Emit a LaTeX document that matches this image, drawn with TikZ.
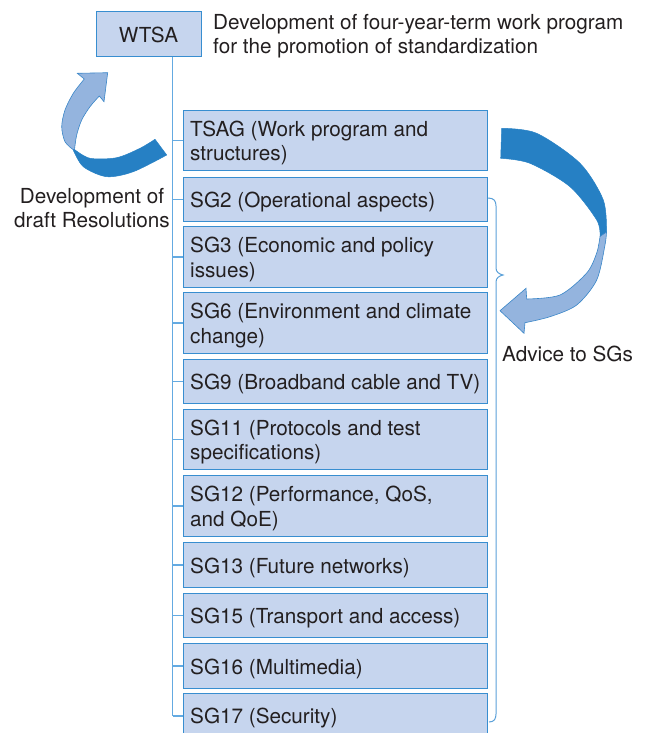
\documentclass[tikz,border=0pt]{standalone}
\usepackage{fontspec}
\setmainfont{TeX Gyre Heros}
\definecolor{boxfill}{HTML}{C6D5EE}
\definecolor{boxline}{HTML}{388ED0}
\definecolor{trunkline}{HTML}{64AAE1}
\definecolor{arrowdark}{HTML}{2680C4}
\definecolor{arrowlight}{HTML}{94B4DE}
\definecolor{arrowedge}{HTML}{3A86C8}
\definecolor{ink}{HTML}{231F20}
\definecolor{bracecol}{HTML}{5AA0D8}
\begin{document}
\begin{tikzpicture}[x=1pt,y=-1pt,
  every node/.style={text=ink, font=\fontsize{20.7}{24.5}\selectfont},
  sgbox/.style={draw=boxline, fill=boxfill, line width=1pt, anchor=north west,
    minimum width=304pt, inner sep=0pt},
  sgtext/.style={anchor=west, inner sep=0pt, align=left, xshift=7pt, yshift=-2.5pt},
  topbox/.style={draw=boxline, fill=boxfill, line width=1pt,
    minimum width=105pt, minimum height=45pt, inner sep=0pt},
  trunk/.style={draw=trunkline, line width=1.2pt},
  darkarrow/.style={fill=arrowdark, draw=arrowdark, line width=0.5pt, line join=round},
  lightarrow/.style={fill=arrowlight, draw=arrowedge, line width=0.6pt, line join=miter},
  plain/.style={inner sep=0pt}]
\useasboundingbox (0,0) rectangle (646,733);
\clip (0,0) rectangle (646,733);

% assembly at the top and its task
\node[topbox] (wtsa) at (148.5,34.5) {WTSA};
\node[plain, anchor=west, align=left] (mission) at (213,36.1)
  {Development of four-year-term work program\\for the promotion of standardization};

% advisory group and study groups: frames
\node[sgbox, minimum height=60pt] (tsag) at (183,110) {};
\node[sgbox, minimum height=44pt] (sg2)  at (183,177) {};
\node[sgbox, minimum height=61pt] (sg3)  at (183,226) {};
\node[sgbox, minimum height=61pt] (sg6)  at (183,292) {};
\node[sgbox, minimum height=44pt] (sg9)  at (183,359) {};
\node[sgbox, minimum height=60pt] (sg11) at (183,409) {};
\node[sgbox, minimum height=61pt] (sg12) at (183,475) {};
\node[sgbox, minimum height=45pt] (sg13) at (183,542) {};
\node[sgbox, minimum height=44pt] (sg15) at (183,593) {};
\node[sgbox, minimum height=45pt] (sg16) at (183,643) {};
\node[sgbox, minimum height=45pt] (sg17) at (183,693) {};

% advisory group and study groups: names
\node[sgtext] (tsag-t) at (tsag.west) {TSAG (Work program and\\structures)};
\node[sgtext] (sg2-t)  at (sg2.west)  {SG2 (Operational aspects)};
\node[sgtext] (sg3-t)  at (sg3.west)  {SG3 (Economic and policy\\issues)};
\node[sgtext] (sg6-t)  at (sg6.west)  {SG6 (Environment and climate\\change)};
\node[sgtext] (sg9-t)  at (sg9.west)  {SG9 (Broadband cable and TV)};
\node[sgtext] (sg11-t) at (sg11.west) {SG11 (Protocols and test\\specifications)};
\node[sgtext] (sg12-t) at (sg12.west) {SG12 (Performance, QoS,\\and QoE)};
\node[sgtext] (sg13-t) at (sg13.west) {SG13 (Future networks)};
\node[sgtext] (sg15-t) at (sg15.west) {SG15 (Transport and access)};
\node[sgtext] (sg16-t) at (sg16.west) {SG16 (Multimedia)};
\node[sgtext] (sg17-t) at (sg17.west) {SG17 (Security)};

% organisation tree
\path (wtsa.south west) ++(77,0) coordinate (trunktop);
\draw[trunk] (trunktop) -- (trunktop |- sg17.west);
\foreach \b in {tsag,sg2,sg3,sg6,sg9,sg11,sg12,sg13,sg15,sg16,sg17}
  \draw[trunk] (trunktop |- \b.west) -- (\b.west);

% brace grouping the study groups
\draw[bracecol, line width=1pt]
  (488,198) .. controls (494,198) and (496,201) .. (496,206) -- (496,268)
  .. controls (496,272) and (499,274) .. (503,275)
  .. controls (499,276) and (496,278) .. (496,282) -- (496,714)
  .. controls (496,719) and (494,722) .. (489,722);

% twisted arrow on the left: draft resolutions go up to the assembly
\filldraw[darkarrow] plot[smooth] coordinates {(73,149.5) (83.3,166.7) (106.7,176.7) (133.3,171.7) (166.7,155)}
  -- (155,139.3)
  -- plot[smooth] coordinates {(155,139.3) (140,148.3) (116.7,157.7) (90,158.3) (74.5,149.5)} -- cycle;
\filldraw[lightarrow] plot[smooth] coordinates {(99.3,96) (90,106.7) (81.7,120) (76.7,135) (74.5,149.5)}
  -- plot[smooth] coordinates {(73,149.5) (65,141.7) (61.7,126.7) (65,110) (73.3,93.3) (84.3,79)}
  -- (77.3,73.3) -- (107.7,72.7) -- (104,101.7) -- cycle;
\node[plain, align=center] (drafts) at (92,208.3) {Development of\\draft Resolutions};

% twisted arrow on the right: advice from TSAG to the study groups
\filldraw[darkarrow] plot[smooth] coordinates {(501.7,128.3) (536.7,133.3) (580,163.3) (603.3,200) (606.5,232)}
  -- (600,236.5)
  -- plot[smooth] coordinates {(600,236.5) (596.7,220) (570,186.7) (530,163.3) (500.7,158.3)} -- cycle;
\filldraw[lightarrow] plot[smooth] coordinates {(600,236.5) (596.7,253) (586.7,273) (560,295) (526.7,299)}
  -- (526,288.3) -- (500,310.7) -- (524,333.3) -- (525,322.7)
  -- plot[smooth] coordinates {(525,322.7) (550,316.7) (576.7,305) (596.7,280) (605,245) (606.5,232)} -- cycle;
\node[plain, anchor=base west] (advice) at (502,361) {Advice to SGs};
\end{tikzpicture}
\end{document}
